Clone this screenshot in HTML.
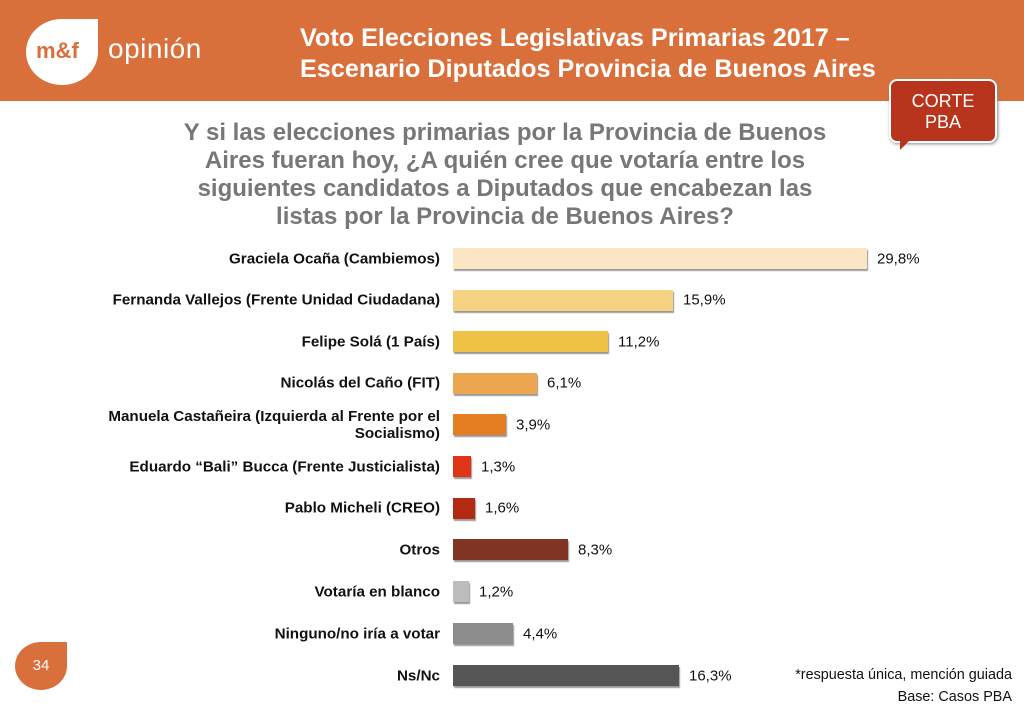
<!DOCTYPE html>
<html><head><meta charset="utf-8"><style>
body{margin:0;width:1024px;height:709px;position:relative;background:#fff;font-family:"Liberation Sans",sans-serif;overflow:hidden}
.a{position:absolute}
.lbl{position:absolute;right:584px;font-weight:bold;font-size:15.2px;color:#111;text-align:right;line-height:17px;transform:translateY(-50%);white-space:nowrap}
.bar{position:absolute;left:453px;height:21px;box-shadow:1px 2px 1px #999}
.val{position:absolute;font-size:15px;color:#111;transform:translateY(-50%)}
</style></head><body>
<div class="a" style="left:0;top:0;width:1024px;height:101px;background:#d9703b"></div>
<div class="a" style="left:26px;top:19px;width:72px;height:66px;background:#fff;border-radius:50% 0 50% 50%"></div>
<div class="a" style="left:36px;top:38px;font-size:22px;color:#d9703b;font-weight:bold">m&amp;f</div>
<div class="a" style="left:108px;top:33px;font-size:28px;color:#fff;letter-spacing:0.5px">opinión</div>
<div class="a" style="left:300px;top:23px;font-size:25.2px;color:#fff;font-weight:bold;line-height:31px;white-space:nowrap">Voto Elecciones Legislativas Primarias 2017 –<br>Escenario Diputados Provincia de Buenos Aires</div>
<div class="a" style="left:889px;top:79px;width:108px;height:64px;background:#b8341c;border:2px solid #fff;border-radius:8px;box-shadow:1px 1px 3px #888;color:#fff;font-size:18px;text-align:center;line-height:21px;padding-top:10px;box-sizing:border-box">CORTE<br>PBA</div>
<div class="a" style="left:900px;top:140px;width:0;height:0;border-left:10px solid #b8341c;border-bottom:10px solid transparent"></div>
<div class="a" style="left:100px;top:119px;width:810px;text-align:center;font-size:24px;font-weight:bold;color:#777;line-height:28px">Y si las elecciones primarias por la Provincia de Buenos<br>Aires fueran hoy, ¿A quién cree que votaría entre los<br>siguientes candidatos a Diputados que encabezan las<br>listas por la Provincia de Buenos Aires?</div>

<div class="lbl" style="top:259px">Graciela Ocaña (Cambiemos)</div>
<div class="bar" style="top:248px;width:414px;background:#fbe6c4"></div><div class="val" style="left:877px;top:259px">29,8%</div>
<div class="lbl" style="top:300px">Fernanda Vallejos (Frente Unidad Ciudadana)</div>
<div class="bar" style="top:290px;width:220px;background:#f6d383"></div><div class="val" style="left:683px;top:300px">15,9%</div>
<div class="lbl" style="top:342px">Felipe Solá (1 País)</div>
<div class="bar" style="top:331px;width:155px;background:#efc245"></div><div class="val" style="left:618px;top:342px">11,2%</div>
<div class="lbl" style="top:383px">Nicolás del Caño (FIT)</div>
<div class="bar" style="top:373px;width:84px;background:#eba64f"></div><div class="val" style="left:547px;top:383px">6,1%</div>
<div class="lbl" style="top:425px">Manuela Castañeira (Izquierda al Frente por el<br>Socialismo)</div>
<div class="bar" style="top:414px;width:53px;background:#e57d22"></div><div class="val" style="left:516px;top:425px">3,9%</div>
<div class="lbl" style="top:467px">Eduardo “Bali” Bucca (Frente Justicialista)</div>
<div class="bar" style="top:456px;width:18px;background:#dd3516"></div><div class="val" style="left:481px;top:467px">1,3%</div>
<div class="lbl" style="top:508px">Pablo Micheli (CREO)</div>
<div class="bar" style="top:498px;width:22px;background:#b32a12"></div><div class="val" style="left:485px;top:508px">1,6%</div>
<div class="lbl" style="top:550px">Otros</div>
<div class="bar" style="top:539px;width:115px;background:#7f3424"></div><div class="val" style="left:578px;top:550px">8,3%</div>
<div class="lbl" style="top:592px">Votaría en blanco</div>
<div class="bar" style="top:581px;width:16px;background:#bdbdbd"></div><div class="val" style="left:479px;top:592px">1,2%</div>
<div class="lbl" style="top:634px">Ninguno/no iría a votar</div>
<div class="bar" style="top:623px;width:60px;background:#8d8d8d"></div><div class="val" style="left:523px;top:634px">4,4%</div>
<div class="lbl" style="top:676px">Ns/Nc</div>
<div class="bar" style="top:665px;width:226px;background:#555"></div><div class="val" style="left:689px;top:676px">16,3%</div>

<div class="a" style="left:15px;top:642px;width:52px;height:48px;background:#d9703b;border-radius:50% 0 50% 50%;color:#fff;font-size:15px;text-align:center;line-height:48px">34</div>
<div class="a" style="right:12px;top:667px;font-size:14.4px;color:#111">*respuesta única, mención guiada</div>
<div class="a" style="right:12px;top:689px;font-size:14.4px;color:#111">Base: Casos PBA</div>
</body></html>
